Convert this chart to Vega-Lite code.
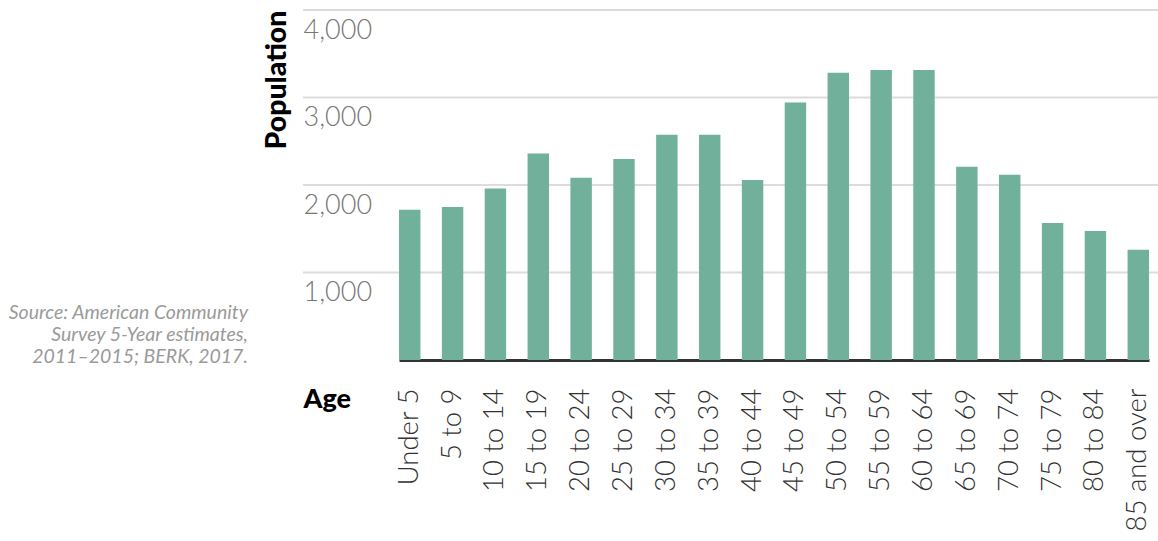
{
  "$schema": "https://vega.github.io/schema/vega-lite/v6.json",
  "autosize": "none",
  "width": 855,
  "height": 350,
  "padding": {"left": 303, "top": 10, "right": 0, "bottom": 181},
  "background": "white",
  "title": {
    "text": ["Source: American Community", "Survey 5-Year estimates,", "2011–2015; BERK, 2017."],
    "orient": "top",
    "anchor": "start",
    "frame": "group",
    "align": "right",
    "baseline": "top",
    "dx": -55,
    "dy": 362,
    "font": "Lato",
    "fontStyle": "italic",
    "fontWeight": "normal",
    "fontSize": 19.5,
    "lineHeight": 22,
    "color": "#9a9a9a"
  },
  "datasets": {
    "ages": [
      {"age": "Under 5", "population": 1718},
      {"age": "5 to 9", "population": 1749},
      {"age": "10 to 14", "population": 1961},
      {"age": "15 to 19", "population": 2361},
      {"age": "20 to 24", "population": 2083},
      {"age": "25 to 29", "population": 2297},
      {"age": "30 to 34", "population": 2574},
      {"age": "35 to 39", "population": 2574},
      {"age": "40 to 44", "population": 2057},
      {"age": "45 to 49", "population": 2943},
      {"age": "50 to 54", "population": 3282},
      {"age": "55 to 59", "population": 3313},
      {"age": "60 to 64", "population": 3313},
      {"age": "65 to 69", "population": 2209},
      {"age": "70 to 74", "population": 2118},
      {"age": "75 to 79", "population": 1566},
      {"age": "80 to 84", "population": 1475},
      {"age": "85 and over", "population": 1261}
    ],
    "grid": [
      {"population": 1000},
      {"population": 2000},
      {"population": 3000},
      {"population": 4000}
    ]
  },
  "layer": [
    {
      "data": {"name": "grid"},
      "mark": {"type": "rule", "color": "#dcdcdc", "strokeWidth": 2},
      "encoding": {
        "y": {"field": "population", "type": "quantitative"}
      }
    },
    {
      "data": {"name": "ages"},
      "mark": {"type": "bar", "color": "#71b09a"},
      "encoding": {
        "x": {
          "field": "age",
          "type": "nominal",
          "sort": null,
          "scale": {"range": [96, 846], "paddingInner": 0.5, "paddingOuter": 0},
          "axis": {
            "title": "Age",
            "titleX": 0,
            "titleY": 47,
            "titleAlign": "left",
            "titleBaseline": "alphabetic",
            "titleAngle": 0,
            "titleFont": "Lato",
            "titleFontSize": 27,
            "titleFontWeight": 900,
            "titleColor": "#000000",
            "labelAngle": -90,
            "labelAlign": "right",
            "labelBaseline": "middle",
            "labelPadding": 28,
            "labelFont": "Lato",
            "labelFontSize": 27.5,
            "labelFontWeight": 300,
            "labelColor": "#333333",
            "labelOverlap": false,
            "ticks": false,
            "grid": false,
            "domain": true,
            "domainColor": "#333333",
            "domainWidth": 3
          }
        },
        "y": {
          "field": "population",
          "type": "quantitative",
          "scale": {"domain": [0, 4000], "nice": false},
          "axis": {
            "values": [1000, 2000, 3000, 4000],
            "format": ",d",
            "title": "Population",
            "titleX": -18,
            "titleY": 0,
            "titleAngle": 270,
            "titleAlign": "right",
            "titleBaseline": "alphabetic",
            "titleFont": "Lato",
            "titleFontSize": 28.5,
            "titleFontWeight": 900,
            "titleColor": "#000000",
            "labelAlign": "left",
            "labelBaseline": "alphabetic",
            "labelPadding": 0,
            "labelOffset": 28,
            "labelFont": "Lato",
            "labelFontSize": 27,
            "labelFontWeight": 300,
            "labelColor": "#777777",
            "labelBound": false,
            "labelFlush": false,
            "labelOverlap": false,
            "ticks": false,
            "domain": false,
            "grid": false
          }
        }
      }
    }
  ],
  "config": {"view": {"stroke": null}}
}
